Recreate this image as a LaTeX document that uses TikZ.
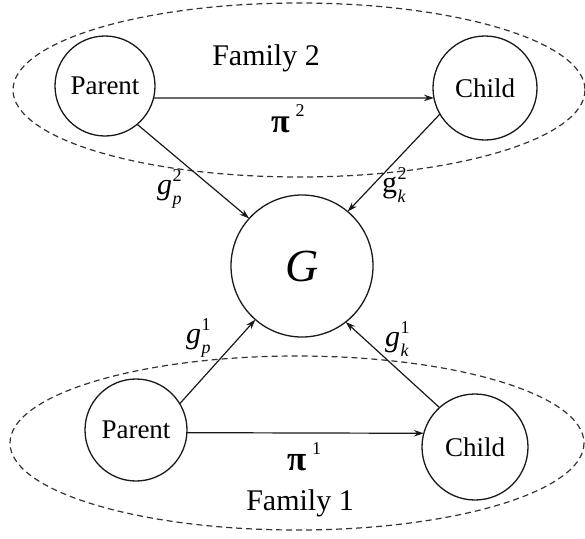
\documentclass[tikz,border=0pt]{standalone}
\usepackage{fontspec}
\setmainfont{Liberation Serif}
\newfontfamily\tms{Liberation Serif}
\usetikzlibrary{arrows.meta}
\newcommand{\fsz}[1]{\tms\fontsize{#1}{#1}\selectfont}
\newcommand{\glab}[3]{{\fsz{30}#1}\kern0.5pt\rlap{\raisebox{13pt}{\fsz{18}#2}}\raisebox{-10pt}{\fsz{18}\itshape #3}}
\begin{document}
\begin{tikzpicture}[x=1pt,y=-1pt,
  every node/.style={inner sep=0pt, outer sep=0pt, font=\tms},
  agent/.style={circle, draw=black!90, line width=1.3pt, font=\fsz{27}},
  family/.style={draw=black!80, line width=1.2pt, dash pattern=on 6pt off 4pt},
  link/.style={draw=black!90, line width=1.2pt, -{Stealth[length=10pt,width=6.5pt]}},
  lab/.style={anchor=base west}]
\useasboundingbox (0,0) rectangle (585,538);
% families
\draw[family] (299,90) ellipse [x radius=286, y radius=87];
\draw[family] (297,443) ellipse [x radius=287, y radius=87];
% nodes
\node[agent, minimum size=100pt] (P2) at (105,86) {Parent};
\node[agent, minimum size=104pt] (C2) at (485,88) {Child};
\node[agent, minimum size=142pt, font=\fsz{46}\itshape] (G) at (302,266) {G};
\node[agent, minimum size=102pt] (P1) at (136,430) {Parent};
\node[agent, minimum size=106pt] (C1) at (475,447) {Child};
% texts
\node[anchor=base] (fam2) at (266,65) {\fsz{30}Family 2};
\node[anchor=base] (fam1) at (300,510) {\fsz{30}Family 1};
\node[lab] (pi2) at (271,132) {{\fsz{34}\bfseries π}\kern6pt\raisebox{16pt}{\fsz{18}2}};
\node[lab] (pi1) at (287,470) {{\fsz{35}\bfseries π}\kern6pt\raisebox{16pt}{\fsz{18}1}};
\node[lab] (gp2) at (157,194) {\glab{\itshape g}{2}{p}};
\node[lab] (gk2) at (382,192) {\glab{g}{2}{k}};
\node[lab] (gp1) at (186,343) {\glab{\itshape g}{1}{p}};
\node[lab] (gk1) at (385,346) {\glab{\itshape g}{1}{k}};
% links
\draw[link] (P2.-14) -- (C2.191);
\draw[link] (P2.-50) -- (G.138);
\draw[link] (C2.210) -- (G.50);
\draw[link] (P1.-3) -- (C1.165);
\draw[link] (P1.31) -- (G.229);
\draw[link] (C1.132) -- (G.-52);
\end{tikzpicture}
\end{document}
